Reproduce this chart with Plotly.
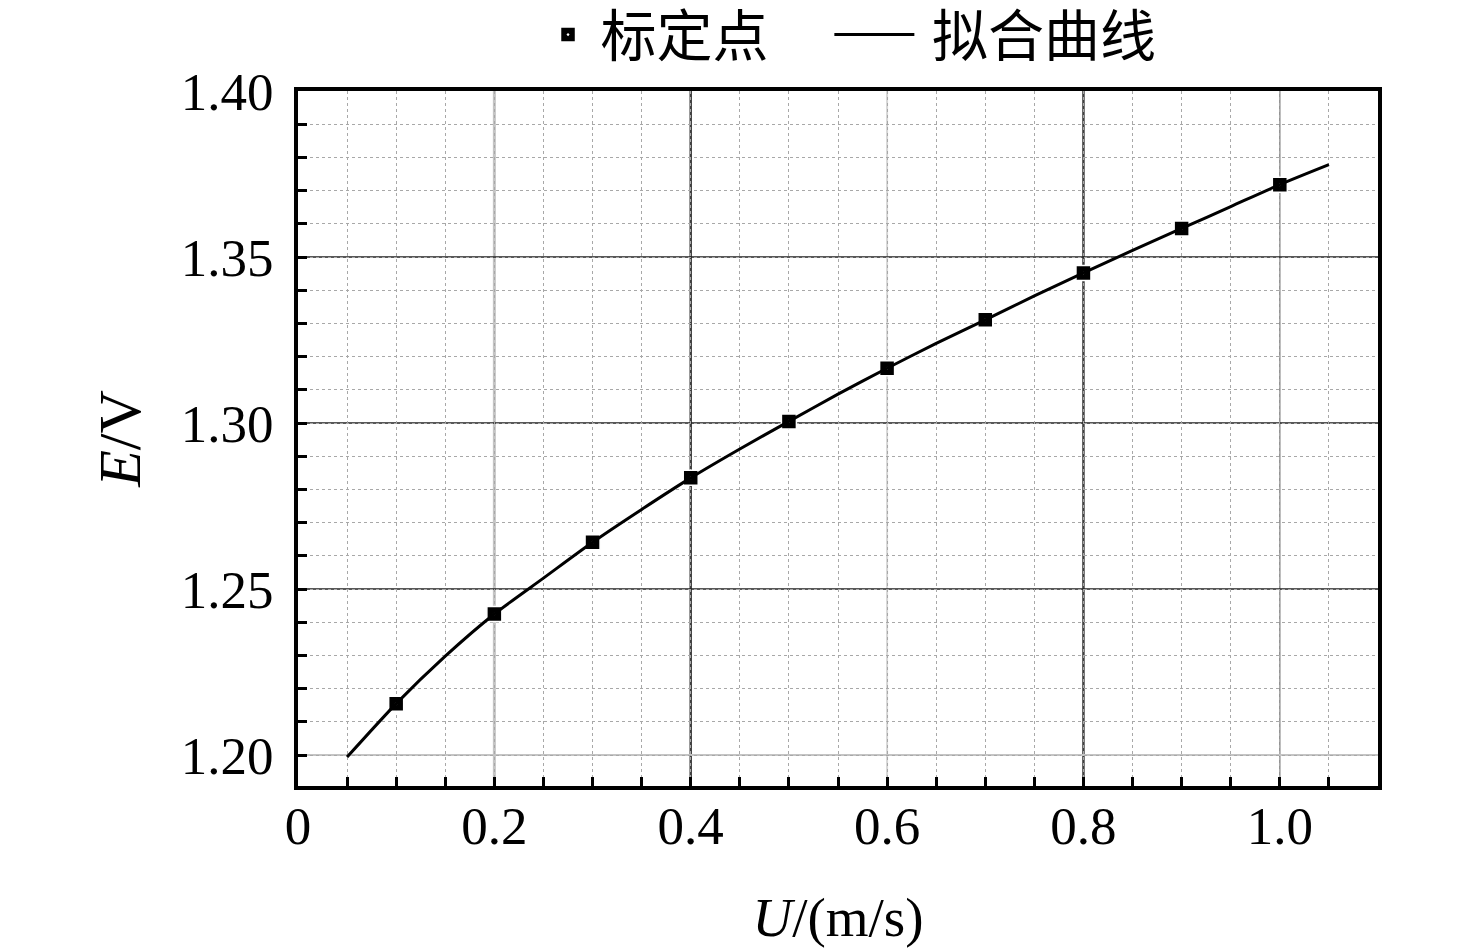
import plotly.graph_objects as go

# calibration points
u_points = [0.1, 0.2, 0.3, 0.4, 0.5, 0.6, 0.7, 0.8, 0.9, 1.0]
e_points = [1.2155, 1.2425, 1.2641, 1.2835, 1.3005, 1.3165, 1.3311, 1.3452, 1.3586, 1.3718]

# fitted curve
u_curve = [0.05, 0.1, 0.15, 0.2, 0.25, 0.3, 0.35, 0.4, 0.45, 0.5, 0.55, 0.6,
           0.65, 0.7, 0.75, 0.8, 0.85, 0.9, 0.95, 1.0, 1.05]
e_curve = [1.1994, 1.2155, 1.2298, 1.2425, 1.2533, 1.2641, 1.2740, 1.2835, 1.2922, 1.3005,
           1.3087, 1.3165, 1.3240, 1.3311, 1.3383, 1.3452, 1.3520, 1.3586, 1.3652, 1.3718, 1.3778]

x_tickvals = [0, 0.2, 0.4, 0.6, 0.8, 1.0]
x_ticktext = ["0", "0.2", "0.4", "0.6", "0.8", "1.0"]
y_tickvals = [1.20, 1.25, 1.30, 1.35, 1.40]
y_ticktext = ["1.20", "1.25", "1.30", "1.35", "1.40"]

# major grid line styling (per line)
x_grid_vals = [0.2, 0.4, 0.6, 0.8, 1.0]
x_grid_colors = ["#c4c4c4", "#404040", "#d6d6d6", "#404040", "#8c8c8c"]
x_grid_widths = [3, 2.5, 2, 2.5, 1.5]
y_grid_vals = [1.20, 1.25, 1.30, 1.35]
y_grid_colors = ["#c4c4c4", "#202020", "#202020", "#202020"]
y_grid_widths = [2, 1.5, 1.5, 1.5]

SERIF = "Liberation Serif, Times New Roman, serif"
CJK = "Noto Sans CJK SC"
SP = "\u00a0"

fig = go.Figure()

fig.add_trace(go.Scatter(
    x=u_points, y=e_points, mode="markers", name=SP + "标定点", legend="legend",
    marker=dict(symbol="square-dot", size=15, color="black",
                line=dict(width=1.5, color="white")),
))
fig.add_trace(go.Scatter(
    x=u_curve, y=e_curve, mode="lines", name=SP + "拟合曲线", legend="legend2",
    line=dict(color="black", width=3, shape="spline", smoothing=0.7),
))

shapes = []
for v, c, w in zip(x_grid_vals, x_grid_colors, x_grid_widths):
    shapes.append(dict(type="line", xref="x", yref="paper", x0=v, x1=v, y0=0, y1=1,
                       line=dict(color=c, width=w), layer="below"))
for v, c, w in zip(y_grid_vals, y_grid_colors, y_grid_widths):
    shapes.append(dict(type="line", xref="paper", yref="y", x0=0, x1=1, y0=v, y1=v,
                       line=dict(color=c, width=w), layer="below"))

legend_font = dict(family=CJK, size=56, color="black")

fig.update_layout(
    width=1476, height=951,
    margin=dict(l=290, r=106, t=83, b=173, autoexpand=False),
    paper_bgcolor="white", plot_bgcolor="white",
    shapes=shapes,
    showlegend=True,
    legend=dict(orientation="h", x=0.2315, xanchor="left", y=1.081, yanchor="middle",
                font=legend_font, bgcolor="rgba(0,0,0,0)"),
    legend2=dict(orientation="h", x=0.492, xanchor="left", y=1.081, yanchor="middle",
                 font=legend_font, itemwidth=80, bgcolor="rgba(0,0,0,0)"),
    xaxis=dict(
        range=[0, 1.1], tickvals=x_tickvals, ticktext=x_ticktext,
        showgrid=False, zeroline=False, automargin=False,
        showline=True, linecolor="black", linewidth=4, mirror=True,
        ticks="inside", ticklen=9, tickwidth=3, tickcolor="black",
        ticklabelstandoff=-10,
        tickfont=dict(family=SERIF, size=53, color="black"),
        title=dict(text="<i>U</i>/(m/s)", font=dict(family=SERIF, size=55, color="black"),
                   standoff=45),
        minor=dict(dtick=0.05, tick0=0, showgrid=True, gridcolor="#a8a8a8",
                   griddash="dot", gridwidth=1, ticks="inside", ticklen=9,
                   tickwidth=3, tickcolor="black"),
    ),
    yaxis=dict(
        range=[1.1907, 1.40], tickvals=y_tickvals, ticktext=y_ticktext,
        showgrid=False, zeroline=False, automargin=False,
        showline=True, linecolor="black", linewidth=4, mirror=True,
        ticks="inside", ticklen=9, tickwidth=3, tickcolor="black",
        ticklabelstandoff=10,
        tickfont=dict(family=SERIF, size=53, color="black"),
        title=dict(text="<i>E</i>/V", font=dict(family=SERIF, size=60, color="black"),
                   standoff=22),
        minor=dict(dtick=0.01, tick0=1.20, showgrid=True, gridcolor="#a8a8a8",
                   griddash="dot", gridwidth=1, ticks="inside", ticklen=9,
                   tickwidth=3, tickcolor="black"),
    ),
)

fig.write_html("out.html")
